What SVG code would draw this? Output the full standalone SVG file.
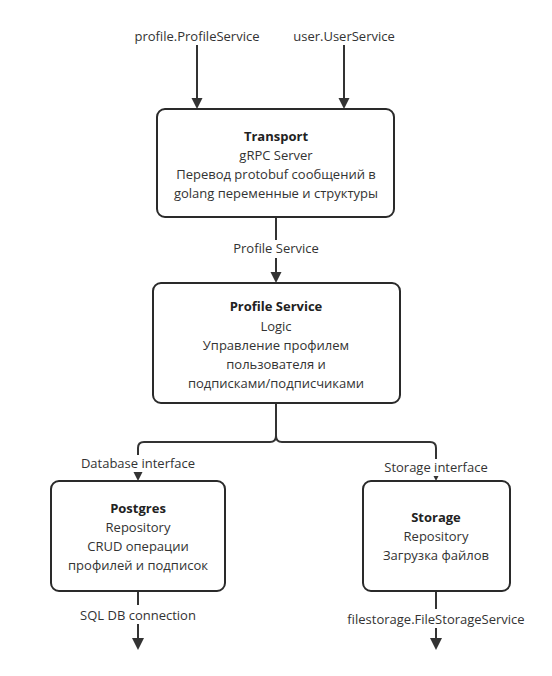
<svg xmlns="http://www.w3.org/2000/svg" width="552" height="676" viewBox="0 0 552 676">
  <style>
    .box { fill: #ffffff; stroke: #2a2a2a; stroke-width: 2; }
    .wire { fill: none; stroke: #333333; stroke-width: 2; }
    .txt { font-family: "Open Sans", "Noto Sans", "DejaVu Sans", sans-serif; font-size: 13px; fill: #333333; text-anchor: middle; }
    .ttl { font-weight: bold; fill: #222222; }
    .lbl { fill: #ffffff; }
  </style>
  <defs>
    <!-- downward arrowhead, tip at (0,0) -->
    <path id="ah" d="M-5.5 -11 H5.5 L0 0 Z" fill="#333333"/>
    <path id="ah-big" d="M-6 -12 H6 L0 0 Z" fill="#333333"/>
  </defs>

  <rect width="552" height="676" fill="#ffffff"/>

  <!-- connectors -->
  <g id="connectors">
    <path class="wire" d="M197 45 V98"/>
    <use href="#ah" x="197" y="109"/>
    <path class="wire" d="M344 45 V98"/>
    <use href="#ah" x="344" y="109"/>

    <path class="wire" d="M276 217 V272"/>
    <use href="#ah" x="276" y="283"/>

    <path class="wire" d="M276 403 V436 Q276 442 270 442 H144 Q138 442 138 448 V471"/>
    <path class="wire" d="M276 436 Q276 442 282 442 H430 Q436 442 436 448 V471"/>
    <use href="#ah" x="138" y="481"/>
    <use href="#ah" x="436" y="481"/>

    <path class="wire" d="M138 591 V640"/>
    <use href="#ah-big" x="138" y="650"/>
    <path class="wire" d="M436 591 V640"/>
    <use href="#ah-big" x="436" y="650"/>

    <!-- label plates over the wires -->
    <rect class="lbl" x="226" y="240" width="100" height="18"/>
    <rect class="lbl" x="78" y="455" width="120" height="17"/>
    <rect class="lbl" x="381" y="459" width="110" height="17"/>
    <rect class="lbl" x="78" y="605" width="120" height="19"/>
    <rect class="lbl" x="345" y="609" width="182" height="19"/>

    <text class="txt" x="197" y="41">profile.ProfileService</text>
    <text class="txt" x="344" y="41">user.UserService</text>
    <text class="txt" x="276" y="253">Profile Service</text>
    <text class="txt" x="138" y="468">Database interface</text>
    <text class="txt" x="436" y="472">Storage interface</text>
    <text class="txt" x="138" y="620">SQL DB connection</text>
    <text class="txt" x="436" y="624">filestorage.FileStorageService</text>
  </g>

  <g id="transport">
    <rect class="box" x="157" y="109" width="237" height="108" rx="8"/>
    <text class="txt ttl" x="276" y="141">Transport</text>
    <text class="txt" x="276" y="160">gRPC Server</text>
    <text class="txt" x="276" y="179">Перевод protobuf сообщений в</text>
    <text class="txt" x="276" y="198">golang переменные и структуры</text>
  </g>

  <g id="profile-service">
    <rect class="box" x="153" y="283" width="247" height="120" rx="8"/>
    <text class="txt ttl" x="276" y="311">Profile Service</text>
    <text class="txt" x="276" y="331">Logic</text>
    <text class="txt" x="276" y="350">Управление профилем</text>
    <text class="txt" x="276" y="369">пользователя и</text>
    <text class="txt" x="276" y="388">подписками/подписчиками</text>
  </g>

  <g id="postgres">
    <rect class="box" x="51" y="481" width="174" height="110" rx="8"/>
    <text class="txt ttl" x="138" y="513">Postgres</text>
    <text class="txt" x="138" y="532">Repository</text>
    <text class="txt" x="138" y="551">CRUD операции</text>
    <text class="txt" x="138" y="570">профилей и подписок</text>
  </g>

  <g id="storage">
    <rect class="box" x="363" y="481" width="147" height="110" rx="8"/>
    <text class="txt ttl" x="436" y="522">Storage</text>
    <text class="txt" x="436" y="541">Repository</text>
    <text class="txt" x="436" y="560">Загрузка файлов</text>
  </g>
</svg>
